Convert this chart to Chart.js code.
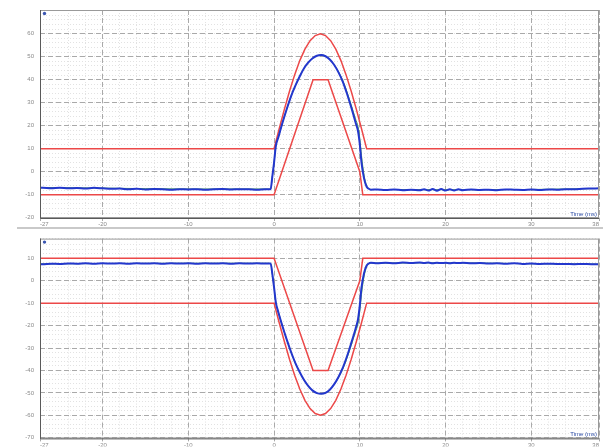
<!DOCTYPE html>
<html>
<head>
<meta charset="utf-8">
<script src="https://cdn.jsdelivr.net/npm/chart.js@4.4.0/dist/chart.umd.min.js"></script>
<style>
  body { margin: 0; background: #fff; width: 603px; height: 448px; overflow: hidden; position: relative; }
  canvas { position: absolute; left: 0; }
  #chart_top { top: 0; }
  #chart_bottom { top: 229px; }
  #separator { position: absolute; left: 17px; top: 227px; width: 586px; height: 2px; background: #c9c9c9; }
</style>
</head>
<body>
<canvas id="chart_top" width="603" height="228"></canvas>
<div id="separator"></div>
<canvas id="chart_bottom" width="603" height="219"></canvas>
<script>
// time axis (ms)
const xTicks = [-27.3, -20, -10, 0, 10, 20, 30, 37.9];
const yTicksTop = [-20, -10, 0, 10, 20, 30, 40, 50, 60];
const yTicksBottom = [-70, -60, -50, -40, -30, -20, -10, 0, 10];
const axisTitle = 'Time (ms)';

// top panel tolerance band
const upperTopT = [-28, 0, 0.6, 1.2, 1.8, 2.4, 3.0, 3.6, 4.2, 4.8, 5.4, 6.0, 6.6, 7.2, 7.8, 8.4, 9.0, 9.6, 10.2, 10.8, 39];
const upperTopV = [10, 10, 18.7, 27.1, 35, 42.1, 48.3, 53.3, 57.0, 59.2, 60, 59.2, 57.0, 53.3, 48.3, 42.1, 35.0, 27.1, 18.7, 10, 10];
const lowerTopT = [-28, 0, 4.55, 6.3, 10.0, 10.35, 39];
const lowerTopV = [-10, -10, 40, 40, 0, -10, -10];

// bottom panel tolerance band
const upperBotT = [-28, 0, 4.55, 6.3, 10.0, 10.35, 39];
const upperBotV = [10, 10, -40, -40, 0, 10, 10];
const lowerBotT = [-28, 0, 0.6, 1.2, 1.8, 2.4, 3.0, 3.6, 4.2, 4.8, 5.4, 6.0, 6.6, 7.2, 7.8, 8.4, 9.0, 9.6, 10.2, 10.8, 39];
const lowerBotV = [-10, -10, -18.7, -27.1, -35, -42.1, -48.3, -53.3, -57.0, -59.2, -60, -59.2, -57.0, -53.3, -48.3, -42.1, -35.0, -27.1, -18.7, -10, -10];

// measured signal
const measT = [-28, -27, -26, -25, -24, -23, -22, -21, -20, -19, -18, -17, -16, -15, -14, -13, -12, -11, -10, -9, -8, -7, -6, -5, -4, -3, -2, -1,
  -0.4, -0.2, 0, 0.2, 0.5, 1, 1.5, 2, 2.5, 3, 3.5, 4, 4.5, 5, 5.5, 6, 6.5, 7, 7.5, 8, 8.5, 9, 9.5, 9.8, 10, 10.2, 10.5, 10.8, 11, 11.3,
  12, 13, 14, 15, 16, 17, 17.5, 18, 18.5, 19, 19.5, 20, 20.5, 21, 21.5, 22, 23, 24, 25, 26, 27, 28, 29, 30, 31, 32, 33, 34, 35, 36, 37, 38];
const measTop = [-7.0, -7.0, -7.2, -6.9, -7.2, -7.1, -7.3, -7.0, -7.2, -7.4, -7.3, -7.6, -7.4, -7.7, -7.5, -7.6, -7.8, -7.6, -7.7, -7.6, -7.8, -7.6, -7.5, -7.7, -7.6, -7.6, -7.8, -7.6,
  -7.6, -2, 4, 11, 15, 21.5, 27.5, 33, 37.5, 41.5, 45, 47.5, 49.3, 50.4, 50.7, 50.2, 48.8, 46.5, 43.3, 39.3, 34, 28, 21.5, 17.5, 12, 4, -3, -6.5, -7.3, -7.8,
  -7.7, -7.9, -7.7, -8.0, -7.8, -8.0, -7.6, -8.2, -7.5, -8.3, -7.5, -8.2, -7.6, -8.1, -7.6, -8.0, -7.7, -7.9, -7.8, -8.0, -7.7, -7.8, -7.9, -7.7, -7.9, -7.7, -7.8, -7.6, -7.6, -7.4, -7.3, -7.2];
const measBottom = [7.4, 7.4, 7.6, 7.5, 7.7, 7.6, 7.8, 7.6, 7.8, 7.7, 7.8, 7.6, 7.8, 7.7, 7.8, 7.6, 7.8, 7.7, 7.8, 7.6, 7.8, 7.7, 7.8, 7.6, 7.8, 7.7, 7.8, 7.7,
  7.7, 3, -3, -9.5, -14, -20.5, -26.5, -32, -36.8, -40.8, -44.3, -47, -49, -50.1, -50.4, -50, -48.6, -46.2, -43, -39, -33.8, -27.8, -21.5, -17, -11, -3, 3.5, 6.8, 7.6, 8.0,
  7.8, 8.0, 7.8, 8.1, 7.9, 8.1, 7.9, 8.1, 7.8, 8.0, 7.9, 8.0, 7.8, 8.0, 7.9, 8.0, 7.8, 7.9, 7.7, 7.8, 7.6, 7.8, 7.5, 7.7, 7.5, 7.6, 7.5, 7.5, 7.4, 7.5, 7.4, 7.4];

// reference signal
const refT = [-28, -20, -10, -1, -0.4, -0.2, 0, 0.2, 0.5, 1, 1.5, 2, 2.5, 3, 3.5, 4, 4.5, 5, 5.5, 6, 6.5, 7, 7.5, 8, 8.5, 9, 9.5, 9.8, 10, 10.2, 10.5, 10.8, 11, 11.3, 12, 20, 30, 39];
const refTop = [-6.8, -7.1, -7.5, -7.5, -7.6, -2, 4, 11, 15, 21.5, 27.5, 33, 37.5, 41.5, 45, 47.5, 49.3, 50.4, 50.7, 50.2, 48.8, 46.6, 43.6, 39.8, 34.8, 29, 23, 19.5, 14.5, 7, -1.5, -6, -7.2, -7.7, -7.7, -7.8, -7.7, -7.2];
const refBottom = [7.5, 7.7, 7.8, 7.8, 7.7, 3, -3, -9.5, -14, -20.5, -26.5, -32, -36.8, -40.8, -44.3, -47, -49, -50.1, -50.4, -50, -48.6, -46.3, -43.3, -39.5, -34.6, -28.8, -22.8, -19, -13.5, -6, 2, 6.3, 7.5, 7.9, 7.9, 8.0, 7.6, 7.4];

const pts = (ts, vs) => ts.map((t, i) => ({x: t, y: vs[i]}));

const framePlugin = {
    id: 'frame',
    afterDraw(chart) {
        const {ctx, chartArea: a} = chart;
        ctx.save();
        ctx.strokeStyle = '#9a9a9a';
        ctx.lineWidth = 1;
        ctx.strokeRect(a.left + 0.5, a.top + 0.5, a.width - 1, a.height - 1);
        ctx.strokeStyle = '#5a5a5a';
        ctx.beginPath();
        ctx.moveTo(a.left + 0.5, a.top);
        ctx.lineTo(a.left + 0.5, a.bottom + 0.5);
        ctx.lineTo(a.right, a.bottom + 0.5);
        ctx.stroke();
        ctx.fillStyle = '#3a55b0';
        ctx.beginPath();
        ctx.arc(a.left + 4.5, a.top + 3.5, 1.7, 0, Math.PI * 2);
        ctx.fill();
        ctx.font = '6px "Liberation Sans"';
        ctx.textAlign = 'right';
        ctx.textBaseline = 'bottom';
        ctx.fillStyle = '#2f4fa8';
        ctx.fillText(axisTitle, a.right - 2, a.bottom - 1);
        ctx.restore();
    }
};

function makeChart(id, cfg) {
    const tickFont = {family: 'Liberation Sans', size: 6};
    // first dataset is painted last (on top)
    return new Chart(document.getElementById(id), {
        type: 'line',
        data: {
            datasets: [{
                data: pts(measT, cfg.meas),
                borderColor: 'rgb(35, 55, 205)',
                borderWidth: 2,
                cubicInterpolationMode: 'monotone'
            }, {
                data: pts(refT, cfg.ref),
                borderColor: 'rgb(80, 165, 80)',
                borderWidth: 1,
                cubicInterpolationMode: 'monotone'
            }, {
                data: pts(cfg.upperT, cfg.upperV),
                borderColor: 'rgb(236, 72, 72)',
                borderWidth: 1.5
            }, {
                data: pts(cfg.lowerT, cfg.lowerV),
                borderColor: 'rgb(236, 72, 72)',
                borderWidth: 1.5
            }]
        },
        plugins: [framePlugin],
        options: {
            responsive: false,
            animation: false,
            events: [],
            layout: {padding: {top: cfg.padTop, right: 4, left: 0, bottom: 0}},
            elements: {point: {radius: 0}, line: {tension: 0}},
            plugins: {legend: {display: false}, tooltip: {enabled: false}},
            scales: {
                xMinor: {
                    type: 'linear', position: 'bottom', min: -27.3, max: 37.9,
                    ticks: {display: false, stepSize: 2},
                    grid: {color: '#e2e2e2', lineWidth: 1, drawTicks: false, borderDash: [1, 2]},
                    border: {display: false, dash: [1, 2]},
                    afterFit: s => { s.height = 0; }
                },
                yMinor: {
                    type: 'linear', position: 'left', min: cfg.yMin, max: cfg.yMax,
                    ticks: {display: false, stepSize: 2},
                    grid: {color: '#e2e2e2', lineWidth: 1, drawTicks: false, borderDash: [1, 2]},
                    border: {display: false, dash: [1, 2]},
                    afterFit: s => { s.width = 0; }
                },
                x: {
                    type: 'linear', position: 'bottom', min: -27.3, max: 37.9,
                    afterBuildTicks: s => { s.ticks = xTicks.map(v => ({value: v})); },
                    ticks: {
                        font: tickFont, color: '#8a8a8a', padding: 0, maxRotation: 0,
                        autoSkip: false, align: 'inner',
                        callback: v => Math.round(v)
                    },
                    grid: {color: '#a9a9a9', lineWidth: 1, tickLength: 3, borderDash: [5, 3]},
                    border: {display: false, dash: [5, 3]},
                    afterFit: s => { s.height = cfg.xHeight; }
                },
                y: {
                    type: 'linear', position: 'left', min: cfg.yMin, max: cfg.yMax,
                    afterBuildTicks: s => { s.ticks = cfg.yTicks.map(v => ({value: v})); },
                    ticks: {font: tickFont, color: '#8a8a8a', padding: 6},
                    grid: {color: '#a9a9a9', lineWidth: 1, drawTicks: false, borderDash: [5, 3]},
                    border: {display: false, dash: [5, 3]},
                    afterFit: s => { s.width = 40; }
                }
            }
        }
    });
}

const topChart = makeChart('chart_top', {
    upperT: upperTopT, upperV: upperTopV, lowerT: lowerTopT, lowerV: lowerTopV,
    meas: measTop, ref: refTop,
    yMin: -20.1, yMax: 70.3, yTicks: yTicksTop, padTop: 10, xHeight: 10
});

const bottomChart = makeChart('chart_bottom', {
    upperT: upperBotT, upperV: upperBotV, lowerT: lowerBotT, lowerV: lowerBotV,
    meas: measBottom, ref: refBottom,
    yMin: -70.3, yMax: 18.8, yTicks: yTicksBottom, padTop: 6, xHeight: 8
});
</script>
</body>
</html>
